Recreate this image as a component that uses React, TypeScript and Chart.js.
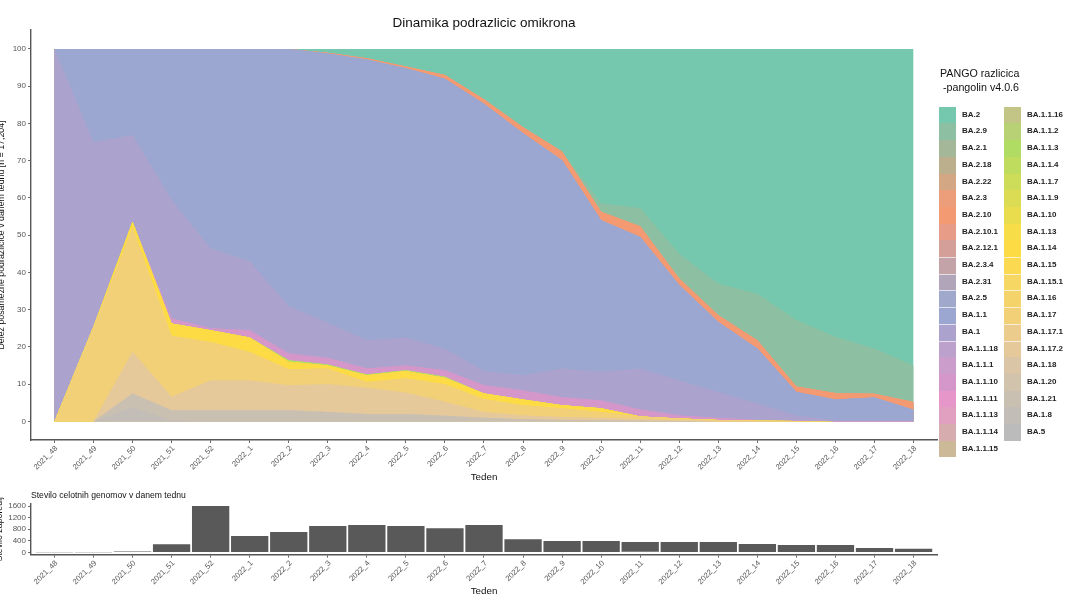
import React, { useEffect, useRef } from "react";
import { Chart, registerables } from "chart.js";

Chart.register(...registerables);

const FONT = '"Liberation Sans", Arial, sans-serif';

const weeks = [
  "2021_48", "2021_49", "2021_50", "2021_51", "2021_52", "2022_1", "2022_2", "2022_3",
  "2022_4", "2022_5", "2022_6", "2022_7", "2022_8", "2022_9", "2022_10", "2022_11",
  "2022_12", "2022_13", "2022_14", "2022_15", "2022_16", "2022_17", "2022_18",
];

const shareTicks = [0, 10, 20, 30, 40, 50, 60, 70, 80, 90, 100];
const genomeTicks = [0, 400, 800, 1200, 1600];

// number of whole genomes per week
const genomeCounts = [1, 2, 30, 277, 1600, 565, 702, 910, 945, 910, 830, 945, 450, 391, 391, 356, 356, 356, 287, 252, 252, 149, 125];
// 2022_11 is split in two in the original, with a white line between the parts
const genomeCountsLower = [null, null, null, null, null, null, null, null, null, null, null, null, null, null, null, 45, null, null, null, null, null, null, null];

// weekly share per lineage, in percent
const ba2 = [0, 0, 0, 0, 0, 0, 0, 1, 2.5, 4.7, 7, 13.5, 21, 27.5, 41.4, 42.7, 55, 63, 65.7, 72.8, 77.3, 80.4, 85];
const ba29 = [0, 0, 0, 0, 0, 0, 0, 0, 0, 0, 0, 0, 0, 0, 2.3, 4.9, 6.6, 8.5, 12.5, 17.8, 15.1, 12.2, 9.8];
const ba210 = [0, 0, 0, 0, 0, 0, 0, 0.2, 0.3, 0.5, 1, 1.2, 1.6, 2.4, 2.3, 2.9, 1.8, 1.8, 2.2, 1.5, 1.7, 1, 2.1];
const ba11 = [0, 25, 23.1, 40.5, 53.5, 57, 69, 72.3, 75.4, 72.3, 72.5, 71.8, 65, 55.9, 40.7, 35.3, 25.6, 18.8, 14.8, 6.3, 5.6, 6.1, 2.8];
const ba1 = [100, 49.5, 23.3, 31.9, 21.5, 18.5, 12.8, 9.5, 7.6, 7.5, 5.8, 3.8, 4.1, 7.7, 7.7, 11, 9.4, 7, 4.4, 1.4, 0.2, 0.2, 0.2];
const ba1110 = [0, 0, 0, 1.3, 0.5, 2, 1.8, 1.7, 1.6, 1.3, 1.7, 2.2, 2.4, 2.2, 2.1, 1.9, 0.8, 0.5, 0.2, 0.1, 0.1, 0.1, 0.1];
const ba113 = [0, 0, 0, 0, 0, 0, 0.4, 0.3, 0.2, 0.2, 0.3, 0, 0, 0, 0, 0, 0, 0, 0, 0, 0, 0, 0];
const ba114 = [0, 0, 1.6, 3.3, 3.2, 3.9, 2, 0.8, 1.8, 1.9, 1.7, 1.5, 1.6, 0.8, 1, 0, 0, 0, 0, 0, 0, 0, 0];
const ba117 = [0, 25.5, 33.4, 16.4, 10.3, 7.6, 4.3, 4.2, 1.6, 3.9, 4.7, 3.5, 2.7, 2.3, 1.5, 0.7, 0.5, 0.2, 0.1, 0.1, 0, 0, 0];
const ba1172 = [0, 0, 11.1, 3.6, 8, 8, 6.7, 7.5, 7, 5.7, 3.8, 1.5, 1, 0.8, 0.7, 0.4, 0.2, 0.2, 0.1, 0, 0, 0, 0];
const ba121 = [0, 0, 3.7, 2.7, 2.8, 2.8, 2.8, 2.3, 1.9, 1.9, 1.4, 1, 0.6, 0.4, 0.3, 0.2, 0.1, 0, 0, 0, 0, 0, 0];
const ba18 = [0, 0, 3.8, 0.3, 0.2, 0.2, 0.2, 0.2, 0.1, 0.1, 0.1, 0, 0, 0, 0, 0, 0, 0, 0, 0, 0, 0, 0];
// too rare to see in the picture
const absent = [0, 0, 0, 0, 0, 0, 0, 0, 0, 0, 0, 0, 0, 0, 0, 0, 0, 0, 0, 0, 0, 0, 0];

// legend order, which is also top to bottom in the stack
const lineages = [
  "BA.2", "BA.2.9", "BA.2.1", "BA.2.18", "BA.2.22", "BA.2.3", "BA.2.10", "BA.2.10.1", "BA.2.12.1", "BA.2.3.4", "BA.2.31",
  "BA.2.5", "BA.1.1", "BA.1", "BA.1.1.18", "BA.1.1.1", "BA.1.1.10", "BA.1.1.11", "BA.1.1.13", "BA.1.1.14", "BA.1.1.15",
  "BA.1.1.16", "BA.1.1.2", "BA.1.1.3", "BA.1.1.4", "BA.1.1.7", "BA.1.1.9", "BA.1.10", "BA.1.13", "BA.1.14", "BA.1.15",
  "BA.1.15.1", "BA.1.16", "BA.1.17", "BA.1.17.1", "BA.1.17.2", "BA.1.18", "BA.1.20", "BA.1.21", "BA.1.8", "BA.5",
];

const lineageValues = [
  ba2, ba29, absent, absent, absent, absent, ba210, absent, absent, absent, absent,
  absent, ba11, ba1, absent, absent, ba1110, absent, absent, absent, absent,
  absent, absent, ba113, absent, absent, absent, absent, absent, ba114, absent,
  absent, absent, ba117, absent, ba1172, absent, absent, ba121, ba18, absent,
];

const lineageColors = [
  "#75c8ae", "#8dc0a3", "#a5b799", "#bcaf8e", "#d4a784", "#eb9e79", "#f39a72", "#e69c87", "#d49f98", "#c3a2a8", "#b1a5b9",
  "#a0a8cb", "#9ba7d0", "#aba3cd", "#bda1cd", "#cb9dcb", "#d596c9", "#e796c9", "#e1a0bf", "#d6acae", "#ccb997",
  "#c2c586", "#b8d174", "#b1dc64", "#bfdc5e", "#cddc59", "#dbdc53", "#e9dd4d", "#f7dd47", "#fddb45", "#fbd950",
  "#f7d763", "#f4d36a", "#f1d078", "#ebcc8c", "#e5c99b", "#dac5a7", "#d2c3ac", "#cac0b1", "#c2bdb6", "#bbbbbb",
];

const weekAxis = (fitHeight: number, titleBottom: number) => ({
  type: "linear" as const,
  min: -0.6,
  max: 22.6,
  offset: false,
  afterBuildTicks: (scale: any) => {
    scale.ticks = weeks.map((_, i) => ({ value: i }));
  },
  afterFit: (scale: any) => {
    scale.height = fitHeight;
  },
  grid: { drawOnChartArea: false, offset: false, tickLength: 3, tickColor: "#444", tickWidth: 0.8 },
  border: { display: true, color: "#555", width: 1.4 },
  ticks: {
    autoSkip: false,
    minRotation: 45,
    maxRotation: 45,
    padding: 1,
    labelOffset: 2,
    color: "#555",
    font: { family: FONT, size: 7.7 },
    callback: (value: any) => weeks[value],
  },
  title: {
    display: true,
    text: "Teden",
    color: "#111",
    font: { family: FONT, size: 9.8 },
    padding: { top: 0, bottom: titleBottom },
  },
});

const valueAxis = (min: number, max: number, tickValues: number[], title: string, titleSize: number, titleTop: number) => ({
  min,
  max,
  stacked: true,
  afterBuildTicks: (scale: any) => {
    scale.ticks = tickValues.map((value) => ({ value }));
  },
  afterFit: (scale: any) => {
    scale.width = 31;
  },
  grid: { drawOnChartArea: false, tickLength: 3, tickColor: "#444", tickWidth: 0.8 },
  border: { display: true, color: "#555", width: 1.4 },
  ticks: {
    padding: 2,
    color: "#555",
    font: { family: FONT, size: 8 },
    callback: (value: any) => String(value),
  },
  title: {
    display: true,
    text: title,
    color: "#111",
    font: { family: FONT, size: titleSize },
    padding: { top: titleTop, bottom: 0 },
  },
});

function ShareChart() {
  const canvasRef = useRef<HTMLCanvasElement>(null);

  useEffect(() => {
    const chart = new Chart(canvasRef.current, {
      type: "line",
      data: {
        // bottom of the stack first; every layer fills down so no seams show
        datasets: lineages
          .map((name, i) => ({
            label: name,
            data: lineageValues[i].map((y, x) => ({ x, y })),
            backgroundColor: lineageColors[i],
            borderWidth: 0,
            pointRadius: 0,
            tension: 0,
            fill: "origin",
          }))
          .reverse(),
      },
      options: {
        animation: false,
        responsive: false,
        layout: { padding: { left: 0, right: 143, top: 0, bottom: 0 } },
        plugins: {
          legend: { display: false },
          tooltip: { enabled: false },
          title: {
            display: true,
            fullSize: false,
            text: "Dinamika podrazlicic omikrona",
            color: "#111",
            font: { family: FONT, size: 13.5, weight: "normal" },
            padding: { top: 15, bottom: -1.2 },
          },
        },
        scales: {
          x: weekAxis(45, 2),
          // the 105.1 puts the 100 line on a whole pixel, so the empty layers don't bleed through
          y: valueAxis(-5, 105.1, shareTicks, "Delež posamezne podrazlicice v danem tednu [n = 17,204]", 8.8, -3.5),
        },
      },
    });
    return () => chart.destroy();
  }, []);

  return <canvas ref={canvasRef} width={1080} height={485} style={{ position: "absolute", left: 0, top: 0 }} />;
}

function GenomeChart() {
  const canvasRef = useRef<HTMLCanvasElement>(null);

  useEffect(() => {
    const chart = new Chart(canvasRef.current, {
      type: "bar",
      data: {
        datasets: [
          {
            label: "2022_11 lower part",
            data: genomeCountsLower.map((y, x) => ({ x, y })),
            backgroundColor: "#595959",
            borderColor: "#ffffff",
            borderWidth: { top: 1, right: 0, bottom: 0, left: 0 },
            barThickness: 37.3,
            inflateAmount: 0,
            grouped: false,
          },
          {
            label: "Stevilo zaporedij",
            data: genomeCounts.map((y, x) => ({ x, y })),
            backgroundColor: "#595959",
            barThickness: 37.3,
            inflateAmount: 0,
            grouped: false,
          },
        ],
      },
      options: {
        animation: false,
        responsive: false,
        layout: { padding: { left: 0, right: 143, top: 0, bottom: 0 } },
        plugins: {
          legend: { display: false },
          tooltip: { enabled: false },
          title: {
            display: true,
            fullSize: false,
            align: "start",
            text: "Stevilo celotnih genomov v danem tednu",
            color: "#111",
            font: { family: FONT, size: 8.6, weight: "normal" },
            padding: { top: 5, bottom: 3.4 },
          },
        },
        scales: {
          x: weekAxis(45.3, 3),
          y: { ...valueAxis(-80, 1680, genomeTicks, "Stevilo zaporedij", 8.8, -5.5), stacked: false },
        },
      },
    });
    return () => chart.destroy();
  }, []);

  return <canvas ref={canvasRef} width={1080} height={115} style={{ position: "absolute", left: 0, top: 485 }} />;
}

function LegendColumn({ left, from, to }: { left: number; from: number; to: number }) {
  return (
    <>
      {lineages.slice(from, to).map((name, row) => {
        const top = 106.7 + row * 16.7;
        return (
          <React.Fragment key={name}>
            <div
              style={{
                position: "absolute",
                left,
                top,
                width: 17,
                height: 16.8,
                background: lineageColors[from + row],
                boxSizing: "border-box",
                borderTop: row >= 9 && row <= 14 ? "1px solid rgba(255,255,255,0.65)" : "none",
              }}
            />
            <div
              style={{
                position: "absolute",
                left: left + 23,
                top,
                height: 16.7,
                font: `bold 8px/16.7px ${FONT}`,
                color: "#222",
                whiteSpace: "nowrap",
              }}
            >
              {name}
            </div>
          </React.Fragment>
        );
      })}
    </>
  );
}

export default function App() {
  return (
    <div style={{ position: "fixed", left: 0, top: 0, width: 1080, height: 600, background: "#fff", overflow: "hidden" }}>
      <ShareChart />
      <GenomeChart />
      <div
        style={{
          position: "absolute",
          left: 940,
          top: 66,
          font: `10.7px/14px ${FONT}`,
          color: "#111",
          whiteSpace: "pre",
        }}
      >
        {"PANGO razlicica\n -pangolin v4.0.6"}
      </div>
      <LegendColumn left={939} from={0} to={21} />
      <LegendColumn left={1004} from={21} to={41} />
    </div>
  );
}
